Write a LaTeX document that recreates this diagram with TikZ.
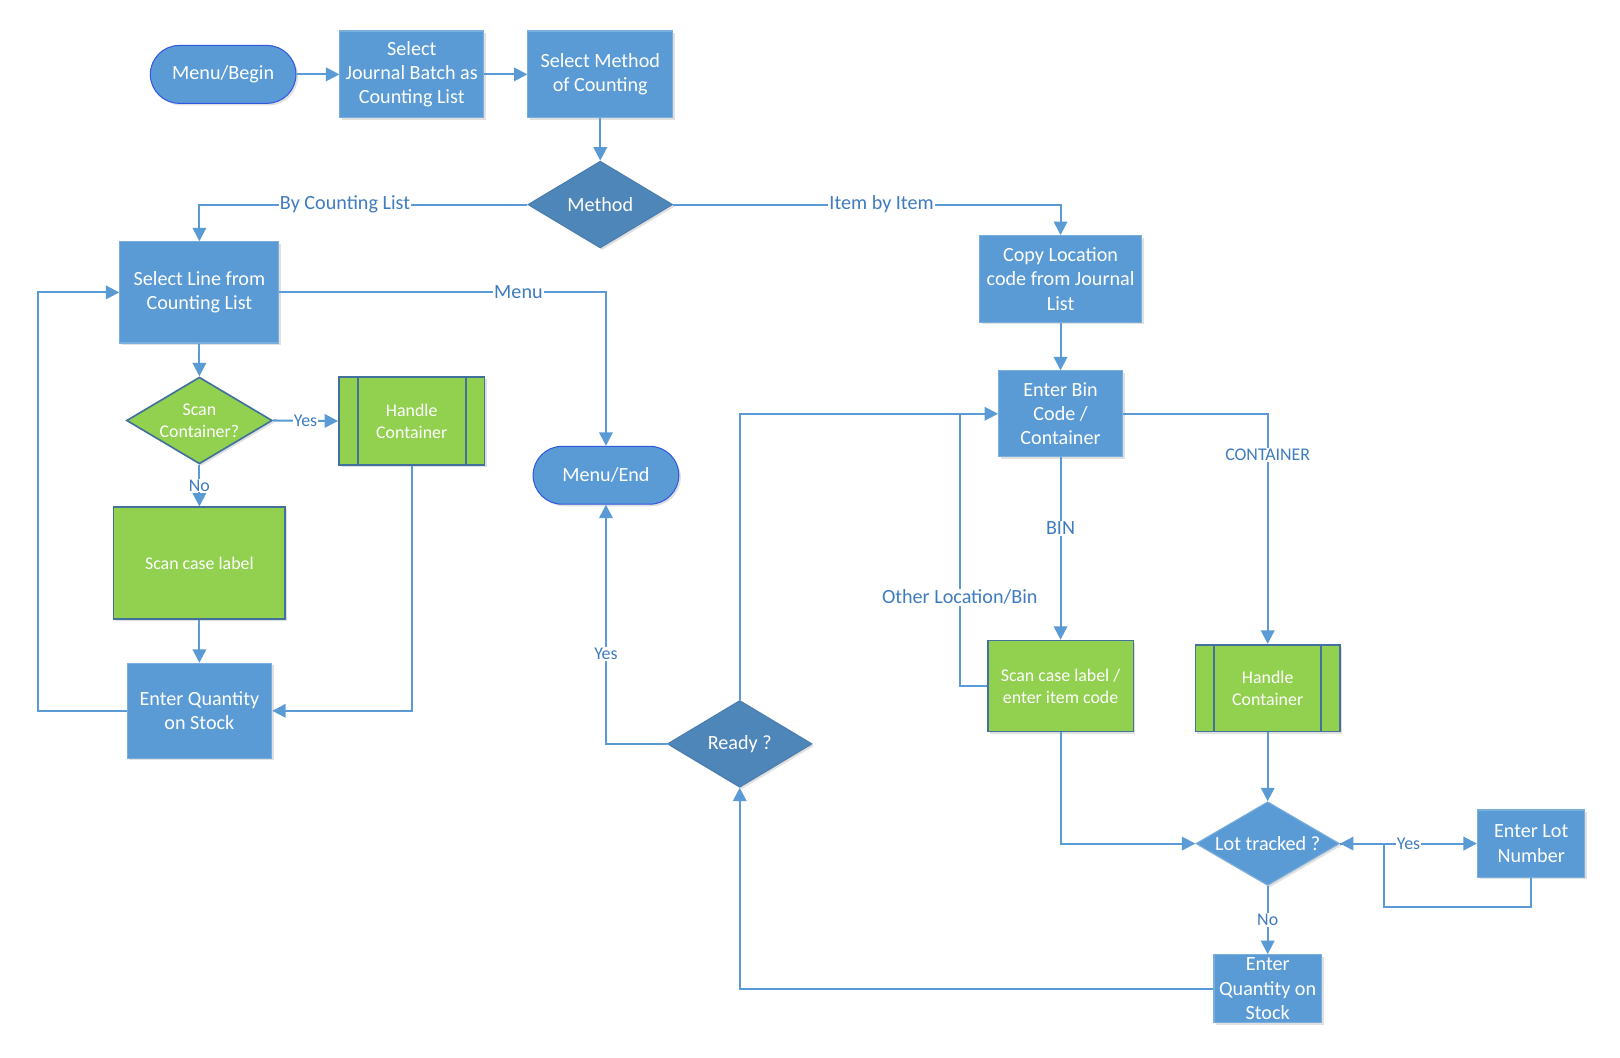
\documentclass[tikz,border=0pt]{standalone}
\usepackage{fontspec}
\setmainfont{Carlito}
\usetikzlibrary{arrows.meta,shapes.geometric,shapes.misc,shadows}
\definecolor{boxblue}{HTML}{5B9BD5}
\definecolor{boxedge}{HTML}{7AAEDD}
\definecolor{darkdia}{HTML}{4E86B9}
\definecolor{diaedge}{HTML}{4A7DAE}
\definecolor{grnfill}{HTML}{92D050}
\definecolor{grnedge}{HTML}{41719C}
\definecolor{termedge}{HTML}{3158E0}
\definecolor{linec}{HTML}{5B9BD5}
\definecolor{labc}{HTML}{3F7CBF}
\newcommand{\bigf}{\fontsize{19.5}{23.5}\selectfont}
\newcommand{\smallf}{\fontsize{17.3}{21}\selectfont}
\tikzset{
  shade/.style={drop shadow={shadow xshift=2pt,shadow yshift=-2pt,opacity=0.12,fill=black}},
  proc/.style={rectangle,fill=boxblue,draw=boxedge,line width=1pt,text=white,font=\bigf,align=center,inner sep=0pt,shade},
  grn/.style={rectangle,fill=grnfill,draw=grnedge,line width=1.6pt,text=white,font=\smallf,align=center,inner sep=0pt,shade},
  term/.style={rounded rectangle,fill=boxblue,draw=termedge,line width=1pt,text=white,font=\bigf,inner sep=0pt,minimum width=141pt,minimum height=56pt,shade},
  dec/.style={diamond,inner sep=0pt,line width=1pt,shade},
  conn/.style={draw=linec,line width=2pt,-{Triangle[length=13pt,width=13pt]}},
  plain/.style={draw=linec,line width=2pt},
  elab/.style={fill=white,text=labc,font=\bigf,inner sep=1pt},
  slab/.style={fill=white,text=labc,font=\smallf,inner sep=1pt},
}
\begin{document}
\begin{tikzpicture}[x=1pt,y=-1pt]
\fill[white] (0,0) rectangle (1568,1024);
% nodes
\node[term] (mb) at (216,72) {Menu/Begin};
\node[proc,minimum width=139pt,minimum height=84pt] (jb) at (398.5,72) {Select\\Journal Batch as\\Counting List};
\node[proc,minimum width=140pt,minimum height=84pt] (sm) at (581,72) {Select Method\\of Counting};
\node[dec,fill=darkdia,draw=diaedge,minimum width=140pt,minimum height=84pt,label={[text=white,font=\bigf]center:Method}] (md) at (581,198) {};
\node[proc,minimum width=154pt,minimum height=98pt] (sl) at (193,283) {Select Line from\\Counting List};
\node[term] (me) at (586.5,460) {Menu/End};
\node[dec,fill=grnfill,draw=grnedge,line width=1.6pt,minimum width=141pt,minimum height=84pt,label={[text=white,font=\smallf,align=center]center:Scan\\Container?}] (scd) at (193,407) {};
\node[grn,minimum width=141pt,minimum height=85pt] (hc1) at (398.5,407.5) {Handle\\Container};
\node[grn,minimum width=166pt,minimum height=108pt] (sc1) at (193,545) {Scan case label};
\node[proc,minimum width=140pt,minimum height=92pt] (eq1) at (193,688) {Enter Quantity\\on Stock};
\node[dec,fill=darkdia,draw=diaedge,minimum width=140pt,minimum height=84pt,label={[text=white,font=\bigf]center:Ready ?}] (rd) at (716,720) {};
\node[proc,minimum width=157pt,minimum height=84pt] (cl) at (1026.5,270) {Copy Location\\code from Journal\\List};
\node[proc,minimum width=120pt,minimum height=83pt] (eb) at (1026.5,400.5) {Enter Bin\\Code /\\Container};
\node[grn,minimum width=141pt,minimum height=88pt] (sc2) at (1026.5,664) {Scan case label /\\enter item code};
\node[grn,minimum width=140pt,minimum height=84pt] (hc2) at (1227,666) {Handle\\Container};
\node[dec,fill=boxblue,draw=boxedge,minimum width=139pt,minimum height=81pt,label={[text=white,font=\bigf]center:Lot tracked ?}] (lt) at (1227,816.5) {};
\node[proc,minimum width=104pt,minimum height=65pt] (el) at (1482,816.5) {Enter Lot\\Number};
\node[proc,minimum width=104pt,minimum height=66pt] (eq2) at (1227,957) {Enter\\Quantity on\\Stock};
% predefined-process inner bars
\draw[grnedge,line width=1.6pt] ([xshift=19pt]hc1.north west) -- ([xshift=19pt]hc1.south west);
\draw[grnedge,line width=1.6pt] ([xshift=-19pt]hc1.north east) -- ([xshift=-19pt]hc1.south east);
\draw[grnedge,line width=1.6pt] ([xshift=19pt]hc2.north west) -- ([xshift=19pt]hc2.south west);
\draw[grnedge,line width=1.6pt] ([xshift=-19pt]hc2.north east) -- ([xshift=-19pt]hc2.south east);
% helper coordinates
\coordinate (lb) at (37,283);
\coordinate (olb) at (929,400.5);
\coordinate (lr) at (1340,878);
% connectors
\draw[conn] (mb.east) -- (jb.west);
\draw[conn] (jb.east) -- (sm.west);
\draw[conn] (sm.south) -- (md.north);
\draw[conn] (md.west) -| node[elab,pos=0.278]{By Counting List} (sl.north);
\draw[conn] (md.east) -| node[elab,pos=0.269]{Item by Item} (cl.north);
\draw[conn] (sl.east) -| node[elab,pos=0.366]{Menu} (me.north);
\draw[conn] (sl.south) -- (scd.north);
\draw[conn] (scd.east) -- node[slab]{Yes} (hc1.west);
\draw[conn] (scd.south) -- node[slab]{No} (sc1.north);
\draw[conn] (sc1.south) -- (eq1.north);
\draw[conn] (hc1.south) |- (eq1.east);
\draw[conn] (eq1.west) -| (lb) -- (sl.west);
\draw[conn] (rd.west) -| node[slab,pos=0.6875]{Yes} (me.south);
\draw[conn] (rd.north) |- (eb.west);
\draw[conn] (cl.south) -- (eb.north);
\draw[conn] (eb.south) -- node[elab,pos=0.39]{BIN} (sc2.north);
\draw[plain] (sc2.west) -| node[elab,pos=0.663]{Other Location/Bin} (olb);
\draw[conn] (eb.east) -| node[slab,pos=0.59]{CONTAINER} (hc2.north);
\draw[conn] (hc2.south) -- (lt.north);
\draw[conn] (sc2.south) |- (lt.west);
\draw[conn] (lt.east) -- node[slab]{Yes} (el.west);
\draw[conn] (el.south) |- (lr) |- (lt.east);
\draw[conn] (lt.south) -- node[slab]{No} (eq2.north);
\draw[conn] (eq2.west) -| (rd.south);
\pgfresetboundingbox
\path[use as bounding box] (0,0) rectangle (1568,1024);
\end{tikzpicture}
\end{document}
